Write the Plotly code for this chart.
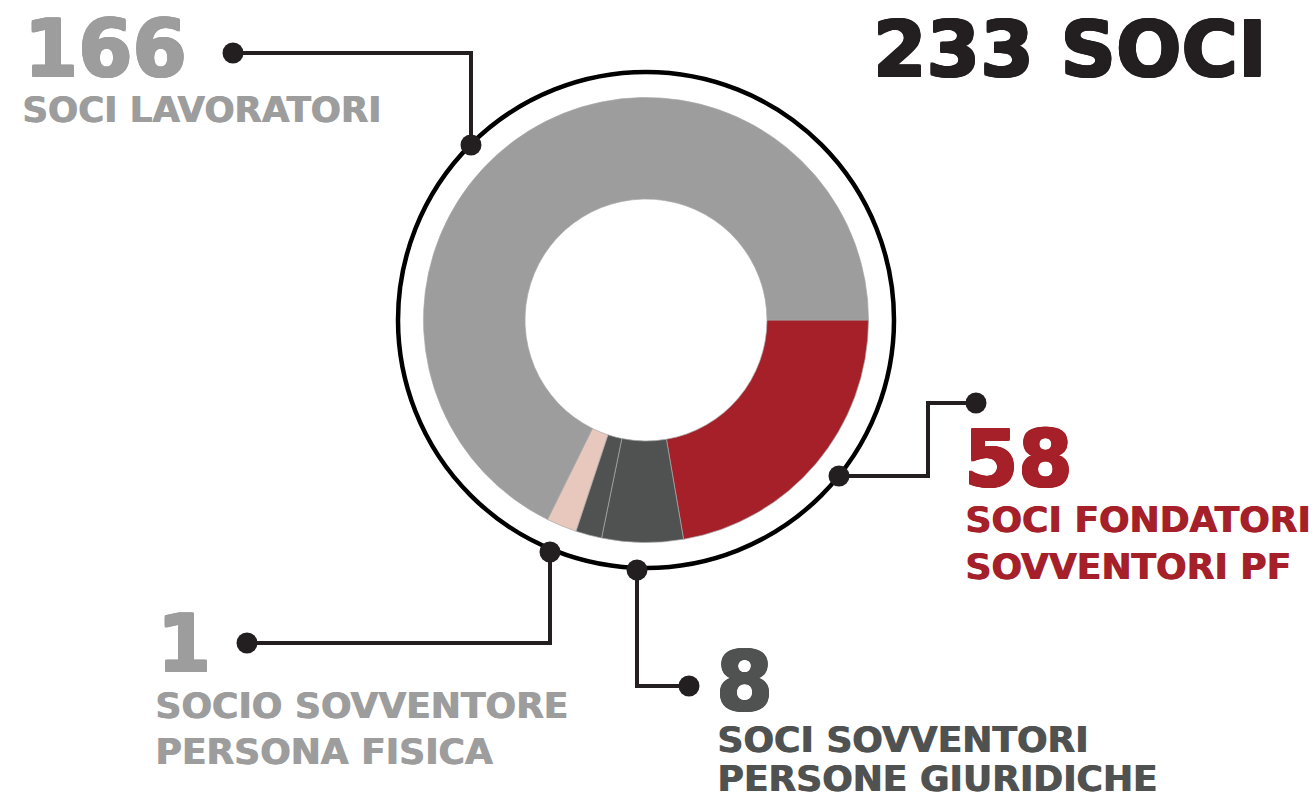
import plotly.graph_objects as go

# ---------------- data ----------------
slice_labels = ["Soci fondatori sovventori PF", "Soci sovventori PG (a)", "Soci sovventori PG (b)",
                "Socio sovventore persona fisica", "Soci lavoratori"]
slice_share = [22.3, 5.9, 1.9, 2.2, 67.7]          # share of the ring (%)
slice_colors = ["#a52028", "#505251", "#505251", "#e8c8bc", "#9d9d9d"]

total_label = "233 SOCI"
callout_numbers = ["166", "58", "1", "8"]
callout_titles = [["SOCI LAVORATORI"],
                  ["SOCI FONDATORI", "SOVVENTORI PF"],
                  ["SOCIO SOVVENTORE", "PERSONA FISICA"],
                  ["SOCI SOVVENTORI", "PERSONE GIURIDICHE"]]
callout_colors = ["#9d9d9d", "#a52028", "#9d9d9d", "#505251"]

# ---------------- layout geometry (page pixels) ----------------
W, H = 1316, 799
CX, CY = 646, 320
R_OUT, R_IN, R_RING = 222.5, 121, 248
FONT = "DejaVu Sans"
INK = "#231f20"

# number position (left, cap-centre y, size), title lines (left, first centre y, step, size)
num_pos = [(22, 49, 78), (962, 459, 78), (155, 644, 78), (714, 681, 82)]
title_pos = [(20, 109, 0, 35.5), (963, 519, 47, 36), (153, 705, 46, 36), (715, 739, 39, 36)]

connectors = [
    [(233, 53), (471, 53), (471, 145)],
    [(839, 476), (928, 476), (928, 403), (976, 403)],
    [(550, 552), (550, 643), (247, 643)],
    [(637, 570), (637, 686), (689, 686)],
]


def heavy(color, d, full=True):
    # thicken the glyphs a little, the reference uses a black/extended face
    offs = [(d, 0), (-d, 0), (0, d), (0, -d), (d, d), (-d, -d), (d, -d), (-d, d)] if full else [(d, 0)]
    return ", ".join(f"{dx}px {dy}px 0 {color}" for dx, dy in offs)


fig = go.Figure()

fig.add_trace(go.Pie(
    labels=slice_labels, values=slice_share, sort=False,
    direction="clockwise", rotation=90, hole=R_IN / R_OUT,
    marker=dict(colors=slice_colors, line=dict(color="#a8a8a8", width=0.7)),
    textinfo="none", hoverinfo="label", showlegend=False,
    domain=dict(x=[(CX - R_OUT) / W, (CX + R_OUT) / W],
                y=[(H - CY - R_OUT) / H, (H - CY + R_OUT) / H]),
))

for path in connectors:
    xs = [p[0] for p in path]
    ys = [p[1] for p in path]
    fig.add_trace(go.Scatter(x=xs, y=ys, mode="lines", line=dict(color=INK, width=4),
                             hoverinfo="skip", showlegend=False))
    fig.add_trace(go.Scatter(x=[xs[0], xs[-1]], y=[ys[0], ys[-1]], mode="markers",
                             marker=dict(color=INK, size=21), hoverinfo="skip", showlegend=False))

fig.add_shape(type="circle", xref="x", yref="y",
              x0=CX - R_RING, x1=CX + R_RING, y0=CY - R_RING, y1=CY + R_RING,
              line=dict(color="#000000", width=4.5), layer="below")

ann = []
ann.append(dict(x=871, y=49, text=total_label, xanchor="left", yanchor="middle", showarrow=False,
                xref="x", yref="y",
                font=dict(family=FONT, size=77, color=INK, weight="bold", shadow=heavy(INK, 1))))
for num, titles, col, (nx, ny, ns), (tx, ty, step, ts) in zip(callout_numbers, callout_titles,
                                                               callout_colors, num_pos, title_pos):
    ann.append(dict(x=nx, y=ny, text=num, xanchor="left", yanchor="middle", showarrow=False,
                    xref="x", yref="y",
                    font=dict(family=FONT, size=ns, color=col, weight="bold", shadow=heavy(col, 1))))
    for i, t in enumerate(titles):
        ann.append(dict(x=tx, y=ty + i * step, text=t, xanchor="left", yanchor="middle",
                        showarrow=False, xref="x", yref="y",
                        font=dict(family=FONT, size=ts, color=col, weight="bold",
                                  shadow=heavy(col, 1, full=False))))

fig.update_layout(
    width=W, height=H, margin=dict(l=0, r=0, t=0, b=0),
    paper_bgcolor="white", plot_bgcolor="white",
    xaxis=dict(range=[0, W], visible=False, fixedrange=True),
    yaxis=dict(range=[H, 0], visible=False, fixedrange=True),
    annotations=ann,
)

fig.write_html("out.html",
               config={"displayModeBar": False},
               post_script="document.body.style.margin='0';"
                           "document.documentElement.style.overflow='hidden';"
                           "document.body.style.overflow='hidden';")
